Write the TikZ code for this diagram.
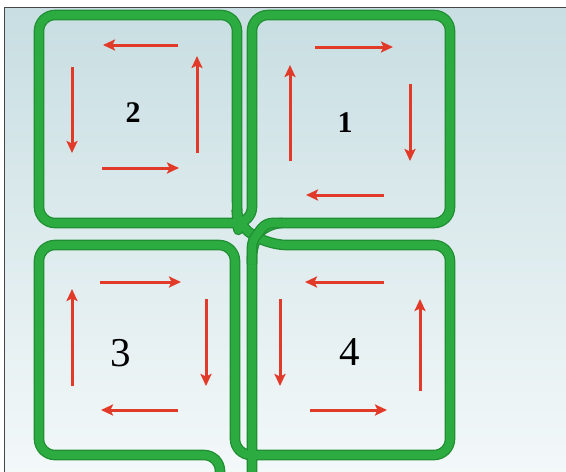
\documentclass[tikz,border=0pt]{standalone}
\usepackage{fontspec}
\setmainfont{Liberation Serif}
\usetikzlibrary{arrows.meta}

\definecolor{wiregreen}{RGB}{44,172,64}
\definecolor{wiredark}{RGB}{32,142,50}
\definecolor{arrowred}{RGB}{226,58,40}
\definecolor{bgtop}{RGB}{200,222,226}
\definecolor{bgbottom}{RGB}{243,248,249}
\definecolor{framegray}{RGB}{70,70,70}

\tikzset{
  wire/.style={draw=wiredark, line width=1.3pt, double=wiregreen,
               double distance=8pt, rounded corners=16pt, line join=round},
  current/.style={draw=arrowred, line width=3pt,
                  -{Stealth[length=12pt,width=11pt,inset=2.5pt]}},
  small num/.style={font=\fontsize{30}{30}\selectfont\bfseries},
  big num/.style={font=\fontsize{41}{41}\selectfont},
}

\begin{document}
\begin{tikzpicture}[x=1pt,y=-1pt]
  \useasboundingbox (0,0) rectangle (566,472);
  % background panel and its frame
  \fill[white] (0,0) rectangle (566,472);
  \shade[top color=bgtop, bottom color=bgbottom] (4,7) rectangle (566,472);
  \draw[framegray, line width=1pt] (4,472) -- (4,7) -- (566,7);

  % ends of the wound wire
  \coordinate (exitA) at (220,480);
  \coordinate (exitB) at (252,480);

  \begin{scope}
    \clip (4,7) rectangle (566,472);
    % one continuous wire through the four loops
    \draw[wire] (exitA) -- (220,455) -- (39,455) -- (39,245) -- (235,245)
      -- (235,455) -- (450,455) -- (450,245) -- (270,245) -- (238,226)
      -- (237,214) -- (237,15) -- (39,15) -- (39,223) -- (252,223)
      -- (252,15) -- (450,15) -- (450,223) -- (266,223) -- (252,241)
      -- (exitB);
    % upper strand of the central crossing
    \draw[wire, rounded corners=6pt] (282,223) -- (266,223) -- (252,241) -- (252,264);
  \end{scope}

  % loop 2 (upper left)
  \draw[current] (178,45) -- (103,45);
  \draw[current] (72,67) -- (72,153);
  \draw[current] (102,168) -- (179,168);
  \draw[current] (197,153) -- (197,56);
  \node[small num] (n2) at (133,113) {2};

  % loop 1 (upper right)
  \draw[current] (315,47) -- (393,47);
  \draw[current] (410,84) -- (410,161);
  \draw[current] (384,195) -- (306,195);
  \draw[current] (290,161) -- (290,65);
  \node[small num] (n1) at (345,123) {1};

  % loop 3 (lower left)
  \draw[current] (100,282) -- (181,282);
  \draw[current] (206,299) -- (206,386);
  \draw[current] (178,410) -- (101,410);
  \draw[current] (72,386) -- (72,289);
  \node[big num] (n3) at (121,353) {3};

  % loop 4 (lower right)
  \draw[current] (384,282) -- (305,282);
  \draw[current] (280,299) -- (280,386);
  \draw[current] (310,410) -- (387,410);
  \draw[current] (420,391) -- (420,299);
  \node[big num] (n4) at (350,352) {4};
\end{tikzpicture}
\end{document}
